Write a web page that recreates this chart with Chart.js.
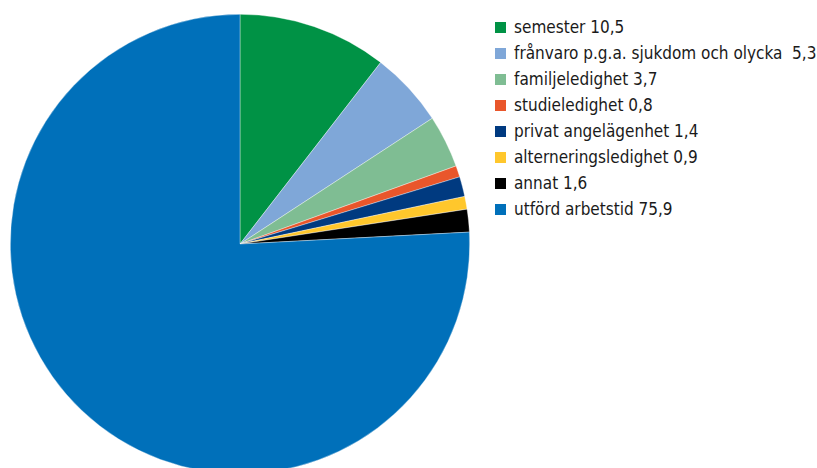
<!DOCTYPE html>
<html>
<head>
<meta charset="utf-8">
<script src="https://cdn.jsdelivr.net/npm/chart.js@4"></script>
<style>
  html, body { margin: 0; padding: 0; background: #fff; overflow: hidden; width: 817px; height: 468px; }
  #pie { position: absolute; left: 10px; top: 14px; }
  #legend { position: absolute; left: 495px; top: 14px; font-family: "Liberation Sans Narrow", "DejaVu Sans Condensed", sans-serif; font-size: 17px; color: #1a1a1a; }
  #legend div { height: 26px; line-height: 26px; white-space: pre; display: flex; align-items: center; }
  #legend span.box { width: 11px; height: 11px; margin-right: 8px; flex: none; }
</style>
</head>
<body>
<canvas id="pie" width="460" height="460"></canvas>
<div id="legend"></div>
<script>
const categories = ['semester', 'frånvaro p.g.a. sjukdom och olycka ', 'familjeledighet', 'studieledighet',
  'privat angelägenhet', 'alterneringsledighet', 'annat', 'utförd arbetstid'];
const values = [10.5, 5.3, 3.7, 0.8, 1.4, 0.9, 1.6, 75.9];
const colors = ['#009245', '#7fa7d8', '#7fbd93', '#e9562b', '#003a80', '#ffc72c', '#000000', '#0070ba'];

const fmt = v => String(v).replace('.', ',');

const ctx = document.getElementById('pie').getContext('2d');
const chart = new Chart(ctx, {
  type: 'pie',
  data: {
    labels: categories,
    datasets: [{
      data: values,
      backgroundColor: colors,
      borderColor: 'rgba(255,255,255,0.6)',
      borderWidth: 0.6
    }]
  },
  options: {
    responsive: false,
    animation: false,
    layout: { padding: 0 },
    plugins: { legend: { display: false }, tooltip: { enabled: false } }
  }
});

// legend on the right, one row per slice
const legend = document.getElementById('legend');
categories.forEach((c, i) => {
  const row = document.createElement('div');
  const box = document.createElement('span');
  box.className = 'box';
  box.style.background = colors[i];
  row.appendChild(box);
  row.appendChild(document.createTextNode(c + ' ' + fmt(values[i])));
  legend.appendChild(row);
});
</script>
</body>
</html>
